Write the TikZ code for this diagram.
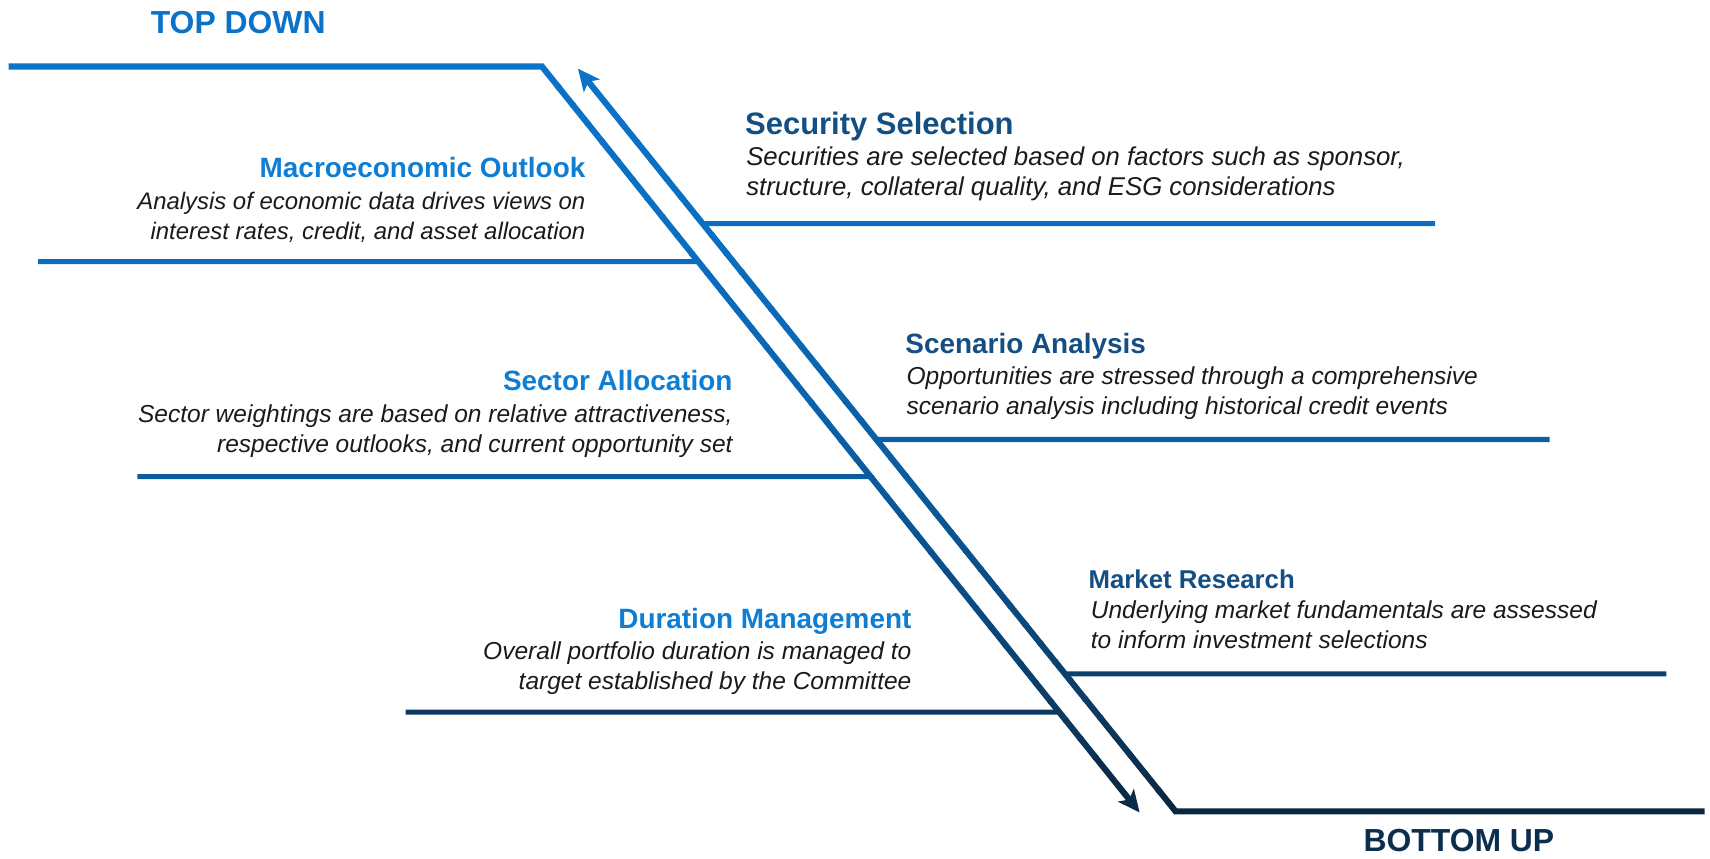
\documentclass[tikz,border=0pt]{standalone}
\usepackage{fontspec}
\setmainfont{Liberation Sans}
\usetikzlibrary{arrows.meta,calc}
\definecolor{topblue}{RGB}{10,114,200}
\definecolor{navy}{RGB}{11,39,64}
\definecolor{headblue}{RGB}{14,125,212}
\definecolor{steelblue}{RGB}{20,78,130}
\definecolor{bodygray}{RGB}{26,26,26}

\begin{document}
\begin{tikzpicture}[x=0.25mm, y=-0.25mm,
  spine/.style={line width=1.4mm, line join=miter},
  rib/.style={line width=1.15mm},
  tip/.style={-{Stealth[length=5mm,width=4.6mm,inset=1.2mm]}},
  head/.style={inner sep=0, font=\fontsize{18.2}{22}\selectfont\bfseries},
  desc/.style={inner sep=0, text=bodygray, font=\fontsize{16}{19.6}\selectfont\itshape},
  title/.style={inner sep=0, font=\fontsize{20.8}{26}\selectfont\bfseries}]
\useasboundingbox (0,0) rectangle (1568,787);

% corners and tips of the two spines
\coordinate (tdleft) at (8,61);
\coordinate (tdcorner) at (497,61);
\coordinate (tdtip) at (1045,745);
\coordinate (buright) at (1563,744);
\coordinate (bucorner) at (1078,744);
\coordinate (butip) at (530,63);

% top down spine, blue fading to navy
\draw[spine, topblue] (tdleft) -- (tdcorner) -- ($(tdcorner)!0.03!(tdtip)$);
\foreach \i in {1,...,36}{
  \pgfmathtruncatemacro\mix{100*(1-((\i+0.5)/40)^2)}
  \draw[spine, topblue!\mix!navy] ($(tdcorner)!{\i/40}!(tdtip)$) -- ($(tdcorner)!{(\i+1.1)/40}!(tdtip)$);
}
\draw[spine, tip, topblue!6!navy] ($(tdcorner)!0.925!(tdtip)$) -- (tdtip);

% bottom up spine, navy fading to blue
\draw[spine, navy] (buright) -- (bucorner) -- ($(bucorner)!0.03!(butip)$);
\foreach \i in {1,...,36}{
  \pgfmathtruncatemacro\mix{100*(1-(1-(\i+0.5)/40)^2)}
  \draw[spine, topblue!\mix!navy] ($(bucorner)!{\i/40}!(butip)$) -- ($(bucorner)!{(\i+1.1)/40}!(butip)$);
}
\draw[spine, tip, topblue] ($(bucorner)!0.925!(butip)$) -- (butip);

% ribs on the left meet the top down spine
\draw[rib, topblue!93!navy] (35,240) -- ($(tdcorner)!{179/684}!(tdtip)$);
\draw[rib, topblue!70!navy] (126,437) -- ($(tdcorner)!{376/684}!(tdtip)$);
\draw[rib, topblue!24!navy] (372,653) -- ($(tdcorner)!{592/684}!(tdtip)$);
% ribs on the right leave the bottom up spine
\draw[rib, topblue!96!navy] ($(bucorner)!{539/681}!(butip)$) -- (1316,205);
\draw[rib, topblue!75!navy] ($(bucorner)!{341/681}!(butip)$) -- (1421,403);
\draw[rib, topblue!33!navy] ($(bucorner)!{126/681}!(butip)$) -- (1528,618);

\node[title, text=topblue, anchor=base west] (topdown) at (138,31) {TOP DOWN};
\node[title, text=navy!90!topblue, anchor=base west] (bottomup) at (1250,781) {BOTTOM UP};

\node[head, text=headblue, anchor=base east] (macro) at (537,163) {Macroeconomic Outlook};
\node[desc, align=right, anchor=base east, font=\fontsize{15.6}{19.6}\selectfont\itshape] (macrotxt) at (537,220) {Analysis of economic data drives views on\\interest rates, credit, and asset allocation};

\node[head, text=headblue, anchor=base east] (sector) at (672,358) {Sector Allocation};
\node[desc, align=right, anchor=base east] (sectortxt) at (672,415) {Sector weightings are based on relative attractiveness,\\respective outlooks, and current opportunity set};

\node[head, text=headblue, anchor=base east] (duration) at (836,576) {Duration Management};
\node[desc, align=right, anchor=base east] (durationtxt) at (836,632) {Overall portfolio duration is managed to\\target established by the Committee};

\node[head, text=steelblue, anchor=base west, font=\fontsize{20.2}{24}\selectfont\bfseries] (security) at (683,123) {Security Selection};
\node[desc, align=left, anchor=base west, font=\fontsize{16.8}{19.6}\selectfont\itshape] (securitytxt) at (684,179) {Securities are selected based on factors such as sponsor,\\structure, collateral quality, and ESG considerations};

\node[head, text=steelblue, anchor=base west] (scenario) at (830,324) {Scenario Analysis};
\node[desc, align=left, anchor=base west] (scenariotxt) at (831,380) {Opportunities are stressed through a comprehensive\\scenario analysis including historical credit events};

\node[head, text=steelblue, anchor=base west, font=\fontsize{16.8}{22}\selectfont\bfseries] (market) at (998,540) {Market Research};
\node[desc, align=left, anchor=base west] (markettxt) at (1000,595) {Underlying market fundamentals are assessed\\to inform investment selections};
\end{tikzpicture}
\end{document}
